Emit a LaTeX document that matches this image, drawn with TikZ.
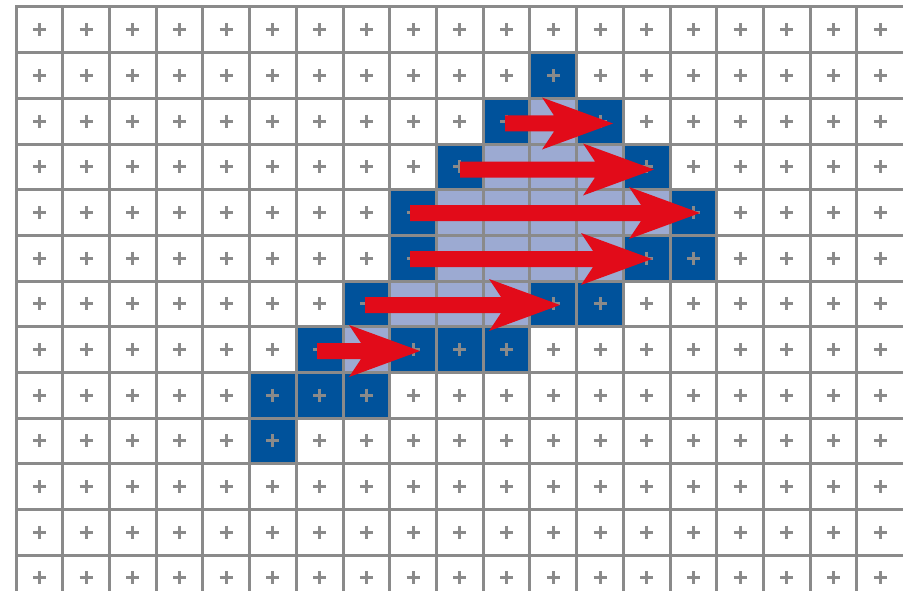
\documentclass[tikz,border=0pt]{standalone}
\definecolor{gridgray}{HTML}{8A8A8A}
\definecolor{darkblue}{HTML}{00529B}
\definecolor{lightblue}{HTML}{9CAAD2}
\definecolor{arrowred}{HTML}{E20B19}
\newcommand\cw{46.72}
\newcommand\ch{45.67}
\newcommand\drawredarrow[3]{% start x, tip x, y
  \fill[redarrow] (#1,#3-8) -- (#2-59,#3-8) -- (#2-71,#3-26) -- (#2,#3)
    -- (#2-71,#3+26) -- (#2-59,#3+8) -- (#1,#3+8) -- cycle;}
\begin{document}
\begin{tikzpicture}[x=1pt,y=-1pt,
  gridline/.style={draw=gridgray,line width=3pt,line cap=rect},
  plusmark/.style={draw=gridgray,line width=3pt},
  darkcell/.style={fill=darkblue},
  lightcell/.style={fill=lightblue},
  redarrow/.style={fill=arrowred}]
\useasboundingbox (0,0) rectangle (907,591);
\clip (0,0) rectangle (907,591);
\fill[white] (0,0) rectangle (907,591);
% dark cells
\foreach \c/\r in {11/1,10/2,12/2,9/3,13/3,8/4,14/4,8/5,13/5,14/5,7/6,11/6,12/6,6/7,8/7,9/7,10/7,5/8,6/8,7/8,5/9}
  \fill[darkcell] ({16+\c*\cw},{7+\r*\ch}) rectangle ++(\cw,\ch);
% plus marks
\foreach \c in {0,...,18}
  \foreach \r in {0,...,12}
    \draw[plusmark] ({16+(\c+0.5)*\cw-6.5},{7+(\r+0.5)*\ch}) -- ++(13,0)
                    ({16+(\c+0.5)*\cw},{7+(\r+0.5)*\ch-6.5}) -- ++(0,13);
% light cells
\foreach \c/\r in {11/2,10/3,11/3,12/3,9/4,10/4,11/4,12/4,13/4,9/5,10/5,11/5,12/5,8/6,9/6,10/6,7/7}
  \fill[lightcell] ({16+\c*\cw},{7+\r*\ch}) rectangle ++(\cw,\ch);
% grid
\foreach \c in {0,...,18}
  \draw[gridline] ({16+\c*\cw},7) -- ({16+\c*\cw},600);
\foreach \r in {0,...,12}
  \draw[gridline] (16,{7+\r*\ch}) -- (901,{7+\r*\ch});
% arrows
\drawredarrow{505}{613}{123.5}
\drawredarrow{460}{654}{169.5}
\drawredarrow{410}{700}{213}
\drawredarrow{410}{652}{259}
\drawredarrow{365}{560}{305}
\drawredarrow{317}{420}{351}
\end{tikzpicture}
\end{document}
